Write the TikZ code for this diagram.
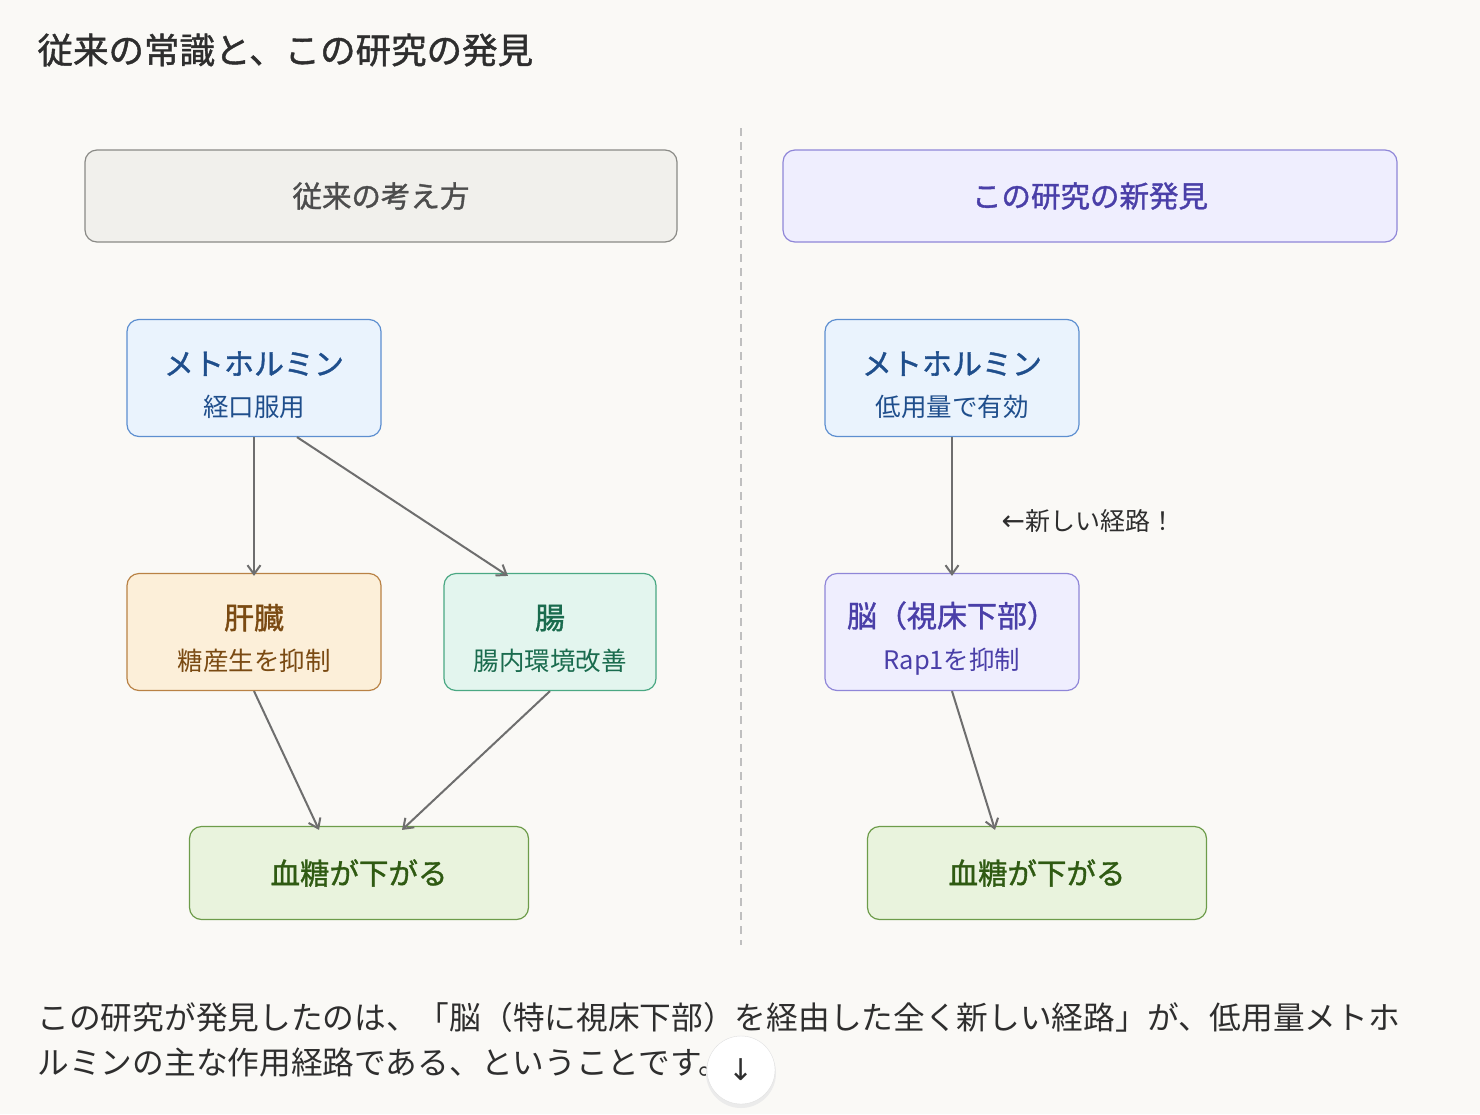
\documentclass[tikz,border=0pt]{standalone}
\usepackage{fontspec}
\setmainfont{Noto Sans CJK JP}
\newfontfamily\medfont[FakeBold=1.2]{Noto Sans CJK JP}
\newfontfamily\symfont{DejaVu Sans}
\definecolor{bgpaper}{HTML}{FAF9F6}
\definecolor{inkgray}{HTML}{2E2E2E}
\definecolor{arrowgray}{HTML}{6E6E6E}
\definecolor{oldfill}{HTML}{F1F0EC}
\definecolor{olddraw}{HTML}{8A8A86}
\definecolor{newfill}{HTML}{EFEEFE}
\definecolor{newdraw}{HTML}{8F86D8}
\definecolor{newtext}{HTML}{4A3FA8}
\definecolor{bluefill}{HTML}{EAF3FD}
\definecolor{bluedraw}{HTML}{5D8FD0}
\definecolor{bluetext}{HTML}{1F4E8C}
\definecolor{orangefill}{HTML}{FCEFD9}
\definecolor{orangedraw}{HTML}{B98245}
\definecolor{orangetext}{HTML}{7A4A12}
\definecolor{tealfill}{HTML}{E3F5EE}
\definecolor{tealdraw}{HTML}{4AA883}
\definecolor{tealtext}{HTML}{1A6B4E}
\definecolor{greenfill}{HTML}{E9F3DD}
\definecolor{greendraw}{HTML}{6D9C4A}
\definecolor{greentext}{HTML}{2F5A12}
\usetikzlibrary{arrows.meta}
\usetikzlibrary{positioning}
\tikzset{
  box/.style={rounded corners=12pt, line width=1.2pt, align=center, inner sep=0pt},
  head/.style={box, minimum height=92pt, font=\medfont\fontsize{29.5}{34}\selectfont},
  stage/.style={box, minimum height=117pt, font=\medfont\fontsize{30}{44}\selectfont},
  result/.style={box, minimum width=339pt, minimum height=93pt, font=\medfont\fontsize{29.5}{34}\selectfont},
  flow/.style={-{Straight Barb[length=9pt,width=13pt]}, arrowgray, line width=2pt}
}
\newcommand{\subline}[1]{\\[-2pt]{\normalfont\fontsize{25.5}{30}\selectfont #1}}
\newcommand{\toppad}{\rule{0pt}{38pt}}

\begin{document}
\begin{tikzpicture}[x=1pt,y=-1pt]
  \fill[bgpaper] (0,0) rectangle (1480,1114);
  \useasboundingbox (0,0) rectangle (1480,1114);

  \node[anchor=west, inkgray, font=\medfont\fontsize{35.5}{40}\selectfont] (title) at (34,50) {従来の常識と、この研究の発見};

  \draw[dashed, dash pattern=on 8pt off 6pt, gray!50, line width=1.2pt] (741,128) -- (741,945);

  % headers
  \node[head, fill=oldfill, draw=olddraw, text=inkgray!85, minimum width=592pt] (oldhead) at (381,196) {従来の考え方};
  \node[head, fill=newfill, draw=newdraw, text=newtext, minimum width=614pt] (newhead) at (1090,196) {この研究の新発見};

  % left: conventional
  \node[stage, fill=bluefill, draw=bluedraw, text=bluetext, minimum width=254pt] (lmet) at (254,378) {\toppad メトホルミン\subline{経口服用}};
  \node[stage, fill=orangefill, draw=orangedraw, text=orangetext, minimum width=254pt] (liver) at (254,632) {\toppad 肝臓\subline{糖産生を抑制}};
  \node[stage, fill=tealfill, draw=tealdraw, text=tealtext, minimum width=212pt] (gut) at (550,632) {\toppad 腸\subline{腸内環境改善}};
  \node[result, fill=greenfill, draw=greendraw, text=greentext] (lblood) at (359,873) {血糖が下がる};

  \draw[flow] (lmet.south) -- ([yshift=-3]liver.north);
  \draw[flow] ([xshift=43]lmet.south) -- ([xshift=-42,yshift=-3]gut.north);
  \draw[flow] (liver.south) -- ([xshift=-40,yshift=-4]lblood.north);
  \draw[flow] (gut.south) -- ([xshift=43,yshift=-4]lblood.north);

  % right: new finding
  \node[stage, fill=bluefill, draw=bluedraw, text=bluetext, minimum width=254pt] (rmet) at (952,378) {\toppad メトホルミン\subline{低用量で有効}};
  \node[stage, fill=newfill, draw=newdraw, text=newtext, minimum width=254pt] (brain) at (952,632) {\toppad 脳（視床下部）\subline{Rap1を抑制}};
  \node[result, fill=greenfill, draw=greendraw, text=greentext] (rblood) at (1037,873) {血糖が下がる};

  \draw[flow] (rmet.south) -- ([yshift=-3]brain.north);
  \draw[flow] (brain.south) -- ([xshift=-42,yshift=-4]rblood.north);
  \node[anchor=west, inkgray, font=\fontsize{25}{28}\selectfont] (newpath) at (998,521) {{\symfont\fontsize{28}{28}\selectfont ←}新しい経路！};

  % summary
  \node[anchor=west, inkgray, font=\fontsize{31.7}{36}\selectfont] (sum1) at (34,1017) {この研究が発見したのは、「脳（特に視床下部）を経由した全く新しい経路」が、低用量メトホ};
  \node[anchor=west, inkgray, font=\fontsize{31.7}{36}\selectfont] (sum2) at (34,1063) {ルミンの主な作用経路である、ということです。};

  \fill[black!8] (741,1073) circle (35);
  \node[circle, fill=white, draw=black!12, minimum size=68pt, inner sep=0pt, font=\symfont\fontsize{30}{30}\selectfont, text=inkgray] (down) at (741,1070) {↓};
\end{tikzpicture}
\end{document}
